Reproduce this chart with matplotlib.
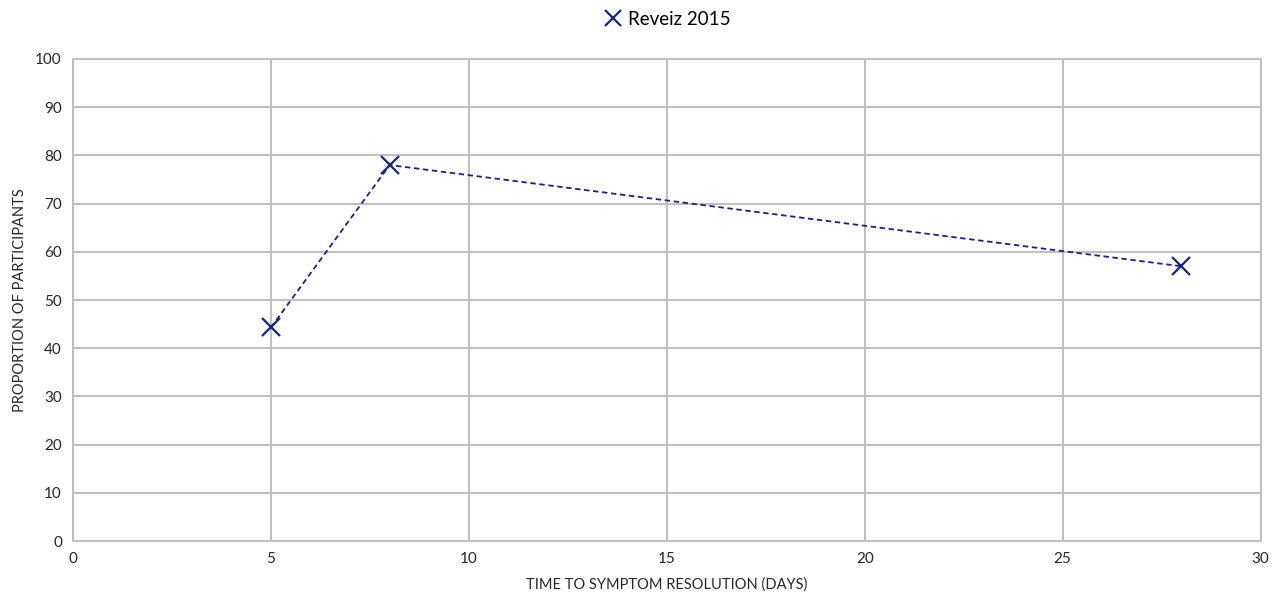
import matplotlib
matplotlib.use("Agg")
import matplotlib.pyplot as plt

days = [5, 8, 28]
proportion = [44.3, 78.0, 57.0]
series_label = "Reveiz 2015"
x_ticks = [0, 5, 10, 15, 20, 25, 30]
y_ticks = [0, 10, 20, 30, 40, 50, 60, 70, 80, 90, 100]

plt.rcParams['font.family'] = ['Lato', 'DejaVu Sans']

fig = plt.figure(figsize=(12.81, 6.0), dpi=100)
ax = fig.add_axes([0.057, 0.0983, 0.927, 0.8034])

color = '#1a237e'
ax.plot(days, proportion, linestyle=(0, (3, 2)), color=color, linewidth=1.3,
        marker='x', markersize=13, markeredgewidth=1.6, label=series_label)

ax.set_xlim(0, 30)
ax.set_ylim(0, 100)
ax.set_xticks(x_ticks)
ax.set_yticks(y_ticks)
ax.grid(True, color='#bfbfbf', linewidth=1.4)
ax.set_axisbelow(True)
for s in ax.spines.values():
    s.set_color('#bfbfbf')
    s.set_linewidth(1.4)
ax.tick_params(length=0, labelsize=11, colors='#262626', pad=8)

ax.set_xlabel("TIME TO SYMPTOM RESOLUTION (DAYS)", fontsize=10.5, color='#262626', labelpad=8)
ax.set_ylabel("PROPORTION OF PARTICIPANTS", fontsize=10.5, color='#262626', labelpad=6)

ax.legend(loc='upper center', bbox_to_anchor=(0.5, 1.135), frameon=False,
          fontsize=13.5, handlelength=1.0, handletextpad=0.3, markerscale=0.85)
leg = ax.get_legend()
leg.get_lines()[0].set_linestyle('None')

fig.savefig("out.png", dpi=100)
